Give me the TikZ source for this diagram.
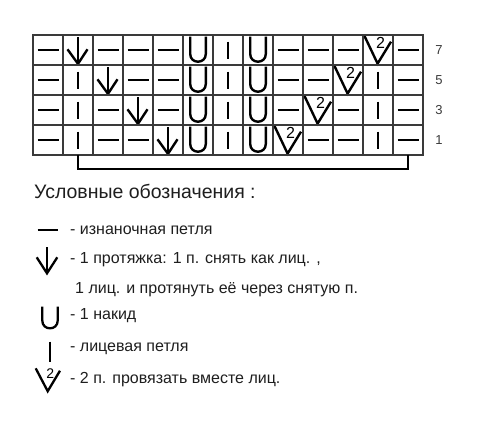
\documentclass[tikz,border=0pt]{standalone}
\usepackage{fontspec}
\setmainfont{Liberation Sans}
\definecolor{ink}{HTML}{1E1E1E}
\definecolor{gridc}{HTML}{3A3A3A}
\begin{document}
\begin{tikzpicture}[x=1pt,y=-1pt,
  gridline/.style={line width=1.3pt, draw=gridc},
  sym/.style={line width=2.4pt, draw=black, line cap=butt},
  lsym/.style={line width=2.3pt, draw=black},
  rowlbl/.style={font=\fontsize{13}{13}\selectfont, text=gridc, inner sep=0pt},
  legtitle/.style={font=\fontsize{19.5}{20}\selectfont, text=ink, anchor=base west, inner sep=0pt},
  legtext/.style={font=\fontsize{16}{17}\selectfont, text=ink, anchor=base west, inner sep=0pt},
  twoc/.style={font=\fontsize{16}{16}\selectfont, inner sep=0pt},
  bracketline/.style={line width=2pt, draw=black},
  symP/.pic={\draw[sym] (-10.5,0) -- (10.5,0);},
  symK/.pic={\draw[sym] (0,-8.5) -- (0,9);},
  symY/.pic={\draw[sym] (-7.8,-13.3) -- (-7.8,3.9) .. controls (-7.8,14.3) and (7.8,14.3) .. (7.8,3.9) -- (7.8,-13.3);},
  symS/.pic={\draw[sym] (0,-12.7) -- (0,13); \draw[sym, line join=miter, miter limit=10] (-10.5,-0.7) -- (0,13.8) -- (9.5,-0.7);},
  symT/.pic={\draw[sym, line join=miter, miter limit=10] (-13.5,-14) -- (-0.4,13.6) -- (13,-8.3); \node[twoc] at (2.6,-7.3) {2};}
]
\useasboundingbox (0,0) rectangle (477,424);
\fill[white] (0,0) rectangle (477,424);

% chart symbols
\foreach \s [count=\i from 0] in {P,S,P,P,P,Y,K,Y,P,P,P,T,P}
  \pic at (48+30*\i,50) {sym\s};
\foreach \s [count=\i from 0] in {P,K,S,P,P,Y,K,Y,P,P,T,K,P}
  \pic at (48+30*\i,80) {sym\s};
\foreach \s [count=\i from 0] in {P,K,P,S,P,Y,K,Y,P,T,P,K,P}
  \pic at (48+30*\i,110) {sym\s};
\foreach \s [count=\i from 0] in {P,K,P,P,S,Y,K,Y,T,P,P,K,P}
  \pic at (48+30*\i,140) {sym\s};

% grid
\foreach \i in {0,...,13} \draw[gridline] (33+30*\i,35) -- (33+30*\i,155);
\foreach \j in {0,...,4} \draw[gridline] (32.35,35+30*\j) -- (423.65,35+30*\j);

% row numbers
\node[rowlbl] (r7) at (439,50) {7};
\node[rowlbl] (r5) at (439,80) {5};
\node[rowlbl] (r3) at (439,110) {3};
\node[rowlbl] (r1) at (439,140) {1};

% repeat bracket
\coordinate (bl) at (78,155);
\coordinate (br) at (408,155);
\draw[bracketline] (bl) -- ++(0,13.5) -| (br);

% legend
\node[legtitle] (title) at (34,198) {Условные обозначения :};

\draw[lsym] (37.7,230) -- (57.7,230);
\node[legtext] (t1) at (70,234.5) {- изнаночная петля};

\draw[lsym] (47,247.3) -- (47,272.5);
\draw[lsym, line join=miter, miter limit=10] (36.7,257.3) -- (47,273.3) -- (57.3,257.3);
\node[legtext] (t2) at (70,263.5) {- 1 протяжка: 1 п. снять как лиц. ,};
\node[legtext] (t3) at (75,293) {1 лиц. и протянуть её через снятую п.};

\draw[lsym] (42.3,306.7) -- (42.3,320.6) .. controls (42.3,330.9) and (57.7,330.9) .. (57.7,320.6) -- (57.7,306.7);
\node[legtext] (t4) at (70,319.5) {- 1 накид};

\draw[lsym] (50,341.7) -- (50,361.7);
\node[legtext] (t5) at (70,351) {- лицевая петля};

\draw[lsym, line join=miter, miter limit=10] (35.7,368.3) -- (47.7,391.2) -- (60,370.7);
\node[twoc, font=\fontsize{14}{14}\selectfont] (two) at (50.2,373.5) {2};
\node[legtext] (t6) at (70,383) {- 2 п. провязать вместе лиц.};
\end{tikzpicture}
\end{document}
